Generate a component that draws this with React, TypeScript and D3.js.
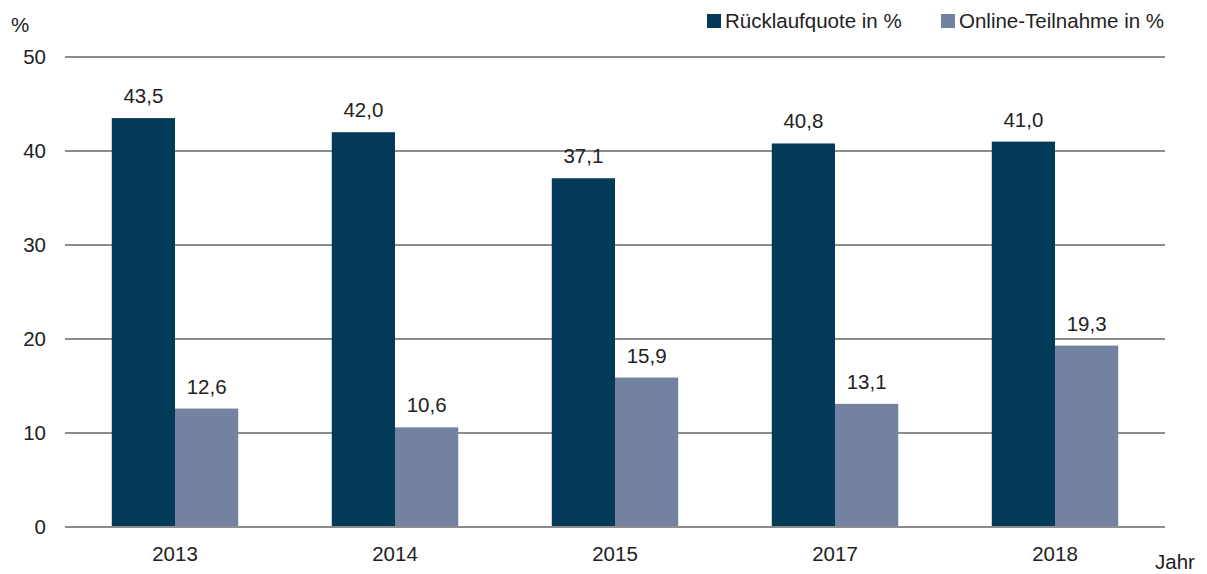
import * as d3 from 'd3';

const years = ['2013', '2014', '2015', '2017', '2018'];
const ruecklauf = [43.5, 42.0, 37.1, 40.8, 41.0];
const online = [12.6, 10.6, 15.9, 13.1, 19.3];
const yTicks = [0, 10, 20, 30, 40, 50];
const seriesNames = ['Rücklaufquote in %', 'Online-Teilnahme in %'];
const colors = ['#023a57', '#7282a0'];

const W = 1207;
const H = 574;
const FONT = '"Liberation Sans", Arial, sans-serif';
const FS = 20.5;

export default function App() {
  const left = 65;
  const right = 1165;
  const top = 57;
  const bottom = 527;

  const x = d3.scaleBand<string>().domain(years).range([left, right]);
  const inner = d3
    .scaleBand<number>()
    .domain([0, 1])
    .range([0, x.bandwidth()])
    .paddingInner(0)
    .paddingOuter(0.74);
  const y = d3.scaleLinear().domain([0, 50]).range([bottom, top]);

  const fmt = (v: number) => v.toFixed(1).replace('.', ',');
  const series = [ruecklauf, online];

  return (
    <svg
      width={W}
      height={H}
      style={{ position: 'absolute', left: 0, top: 0, background: '#fff' }}
      fontFamily={FONT}
    >
      {/* gridlines */}
      {yTicks.map((t) => (
        <line
          key={t}
          x1={left}
          x2={right}
          y1={y(t)}
          y2={y(t)}
          stroke="#8c8c8c"
          strokeWidth={2}
        />
      ))}
      {yTicks.map((t) => (
        <text
          key={'l' + t}
          x={46}
          y={y(t)}
          dy="0.35em"
          textAnchor="end"
          fontSize={FS}
          fill="#222"
        >
          {t}
        </text>
      ))}
      <text x={11} y={32} fontSize={FS} fill="#222">
        %
      </text>

      {/* bars */}
      {series.map((vals, si) =>
        years.map((yr, i) => {
          const bx = (x(yr) ?? 0) + (inner(si) ?? 0);
          const bw = inner.bandwidth();
          return (
            <g key={si + '-' + yr}>
              <rect
                x={bx}
                y={y(vals[i])}
                width={bw}
                height={bottom - y(vals[i])}
                fill={colors[si]}
              />
              <text
                x={bx + bw / 2}
                y={y(vals[i]) - 15}
                textAnchor="middle"
                fontSize={FS}
                fill="#222"
              >
                {fmt(vals[i])}
              </text>
            </g>
          );
        })
      )}
      {/* redraw baseline over bars */}
      <line x1={left} x2={right} y1={bottom} y2={bottom} stroke="#8c8c8c" strokeWidth={2} />

      {years.map((yr) => (
        <text
          key={'x' + yr}
          x={(x(yr) ?? 0) + x.bandwidth() / 2}
          y={561}
          textAnchor="middle"
          fontSize={FS}
          fill="#222"
        >
          {yr}
        </text>
      ))}
      <text x={1155} y={569} fontSize={FS} fill="#222">
        Jahr
      </text>

      {/* legend */}
      {seriesNames.map((name, i) => {
        const lx = [707, 941][i];
        return (
          <g key={name}>
            <rect x={lx} y={14} width={14} height={14} fill={colors[i]} />
            <text x={lx + 18} y={28} fontSize={FS} fill="#222">
              {name}
            </text>
          </g>
        );
      })}
    </svg>
  );
}
